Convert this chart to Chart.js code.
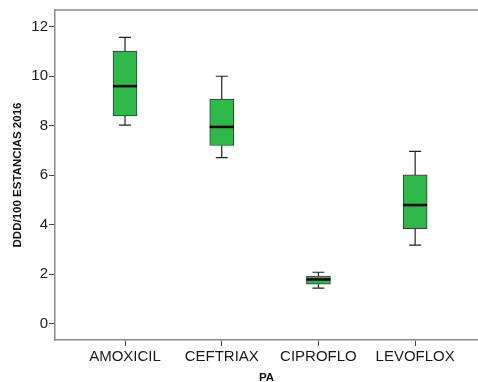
<!DOCTYPE html>
<html>
<head>
<meta charset="utf-8">
<script src="https://cdn.jsdelivr.net/npm/chart.js@4.4.1/dist/chart.umd.min.js"></script>
<style>
  html, body { margin: 0; padding: 0; background: #fff; }
  #wrap { width: 478px; height: 382px; }
</style>
</head>
<body>
<div id="wrap"><canvas id="c" width="478" height="382"></canvas></div>
<script>
// Box-plot summary per antibiotic (DDD per 100 stays, 2016)
const categories  = ['AMOXICIL', 'CEFTRIAX', 'CIPROFLO', 'LEVOFLOX'];
const whiskerLow  = [8.02, 6.71, 1.43, 3.17];
const quartile1   = [8.39, 7.20, 1.59, 3.83];
const medians     = [9.60, 7.95, 1.78, 4.79];
const quartile3   = [11.02, 9.08, 1.92, 6.01];
const whiskerHigh = [11.57, 10.00, 2.07, 6.96];
const yTicks      = [0, 2, 4, 6, 8, 10, 12];

const FONT = "'Liberation Sans', Arial, sans-serif";

// Boxes are floating bars from Q1 to Q3
const boxData = categories.map((c, i) => ({ x: i + 1, y: [quartile1[i], quartile3[i]] }));

// Whiskers, caps and median lines drawn on top of the boxes
const boxPlotExtras = {
  id: 'boxPlotExtras',
  afterDatasetsDraw(chart) {
    const { ctx, scales: { x, y } } = chart;
    const meta = chart.getDatasetMeta(0);
    ctx.save();
    categories.forEach((c, i) => {
      const bar = meta.data[i];
      const half = bar.width / 2;
      const cx = x.getPixelForValue(i + 1);
      const capHalf = half / 2;
      const yLo = y.getPixelForValue(whiskerLow[i]);
      const yHi = y.getPixelForValue(whiskerHigh[i]);
      const yQ1 = y.getPixelForValue(quartile1[i]);
      const yQ3 = y.getPixelForValue(quartile3[i]);
      const yMed = y.getPixelForValue(medians[i]);
      ctx.strokeStyle = '#222';
      ctx.lineWidth = 1.2;
      ctx.beginPath();
      ctx.moveTo(cx, yQ3); ctx.lineTo(cx, yHi);
      ctx.moveTo(cx - capHalf, yHi); ctx.lineTo(cx + capHalf, yHi);
      ctx.moveTo(cx, yQ1); ctx.lineTo(cx, yLo);
      ctx.moveTo(cx - capHalf, yLo); ctx.lineTo(cx + capHalf, yLo);
      ctx.stroke();
      ctx.strokeStyle = '#000';
      ctx.lineWidth = 2.5;
      ctx.beginPath();
      ctx.moveTo(cx - half, yMed); ctx.lineTo(cx + half, yMed);
      ctx.stroke();
    });
    ctx.restore();
  },
  afterDraw(chart) {
    // top frame line
    const { ctx, chartArea } = chart;
    ctx.save();
    ctx.strokeStyle = '#8a8a8a';
    ctx.lineWidth = 1.5;
    ctx.beginPath();
    ctx.moveTo(chartArea.left, chartArea.top);
    ctx.lineTo(chartArea.right, chartArea.top);
    ctx.stroke();
    ctx.restore();
  }
};

new Chart(document.getElementById('c'), {
  type: 'bar',
  data: {
    datasets: [{
      data: boxData,
      backgroundColor: '#2eb84a',
      borderColor: '#3a3a3a',
      borderWidth: 1,
      borderSkipped: false,
      barThickness: 24
    }]
  },
  options: {
    responsive: false,
    animation: false,
    events: [],
    layout: { padding: { top: 7, right: 0, left: 0, bottom: 0 } },
    plugins: { legend: { display: false }, tooltip: { enabled: false } },
    scales: {
      x: {
        type: 'linear',
        offset: false,
        min: 0.276,
        max: 4.65,
        afterBuildTicks(axis) { axis.ticks = categories.map((c, i) => ({ value: i + 1 })); },
        afterFit(axis) { axis.height = 42; },
        ticks: {
          autoSkip: false,
          maxRotation: 0,
          padding: 2,
          color: '#1a1a1a',
          font: { family: FONT, size: 15 },
          callback: (v) => categories[v - 1] || ''
        },
        grid: { offset: false, drawOnChartArea: false, drawTicks: true, tickLength: 6, color: '#444', lineWidth: 1 },
        border: { color: '#8a8a8a', width: 1.5 },
        title: {
          display: true,
          text: 'PA',
          color: '#111',
          font: { family: FONT, size: 11.5, weight: 'bold' },
          padding: { top: 0, bottom: -3 }
        }
      },
      y: {
        min: -0.67,
        max: 12.68,
        afterBuildTicks(axis) { axis.ticks = yTicks.map(v => ({ value: v })); },
        afterFit(axis) { axis.width = 55; },
        ticks: {
          padding: 1,
          color: '#1a1a1a',
          font: { family: FONT, size: 15 }
        },
        grid: { drawOnChartArea: false, drawTicks: true, tickLength: 6, color: '#444', lineWidth: 1 },
        border: { color: '#8a8a8a', width: 1.5 },
        title: {
          display: true,
          text: 'DDD/100 ESTANCIAS 2016',
          color: '#111',
          font: { family: FONT, size: 11.5, weight: 'bold' },
          padding: { top: 11, bottom: 0 }
        }
      }
    }
  },
  plugins: [boxPlotExtras]
});
</script>
</body>
</html>
